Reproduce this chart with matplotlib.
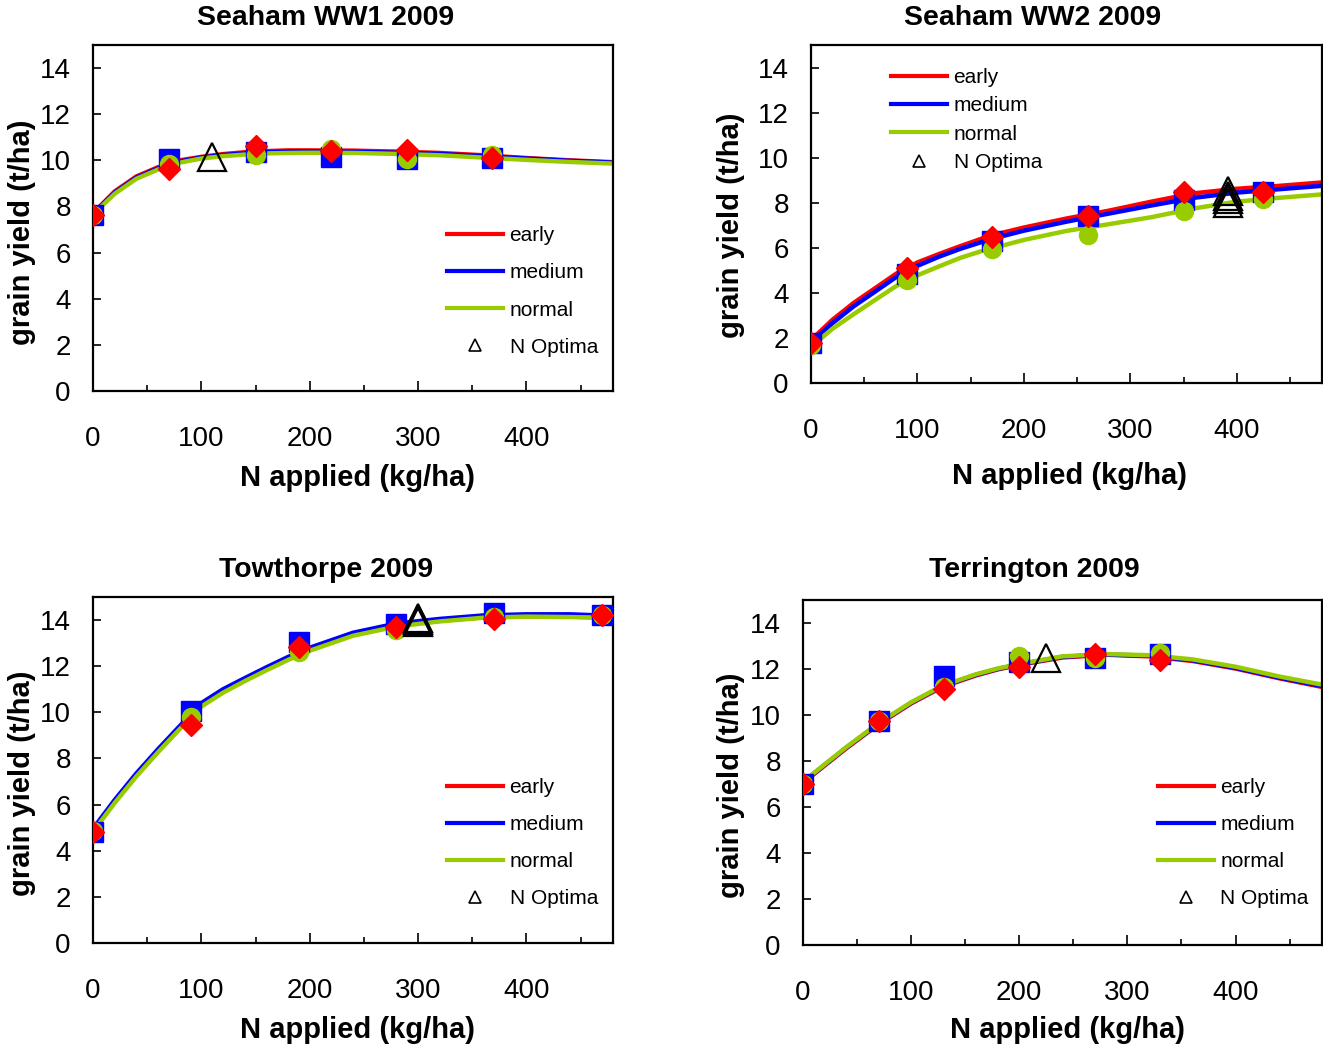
import matplotlib
matplotlib.use("Agg")
import matplotlib.pyplot as plt
from matplotlib.lines import Line2D
from matplotlib.ticker import MultipleLocator

plt.rcParams['font.family'] = ['Liberation Sans', 'DejaVu Sans']

# ---------------- data ----------------
titles = ["Seaham WW1 2009", "Seaham WW2 2009", "Towthorpe 2009", "Terrington 2009"]
series_names = ["early", "medium", "normal"]

# grid of N rates for fitted response curves
curve_n = [0, 20, 40, 60, 80, 100, 120, 140, 160, 180, 200, 240, 280, 320, 360, 400, 440, 480]

# --- Seaham WW1 ---
p1_n = [0, 70, 150, 220, 290, 368]
p1_early = [7.65, 9.63, 10.62, 10.42, 10.45, 10.1]
p1_medium = [7.65, 10.06, 10.38, 10.14, 10.05, 10.12]
p1_normal = [7.65, 9.82, 10.24, 10.5, 10.05, 10.22]
p1_curve_early = [7.7, 8.65, 9.3, 9.7, 10.0, 10.15, 10.27, 10.35, 10.4, 10.43, 10.43, 10.42, 10.38, 10.32, 10.22, 10.1, 10.0, 9.92]
p1_curve_medium = [7.7, 8.6, 9.25, 9.65, 9.95, 10.12, 10.23, 10.3, 10.35, 10.38, 10.38, 10.37, 10.33, 10.28, 10.18, 10.08, 9.98, 9.9]
p1_curve_normal = [7.65, 8.55, 9.2, 9.6, 9.9, 10.08, 10.18, 10.25, 10.3, 10.32, 10.33, 10.32, 10.28, 10.22, 10.12, 10.02, 9.93, 9.86]
p1_opt_n = [110]
p1_opt_y = [10.13]

# --- Seaham WW2 ---
p2_n = [0, 90, 170, 260, 350, 425]
p2_early = [1.76, 5.11, 6.5, 7.4, 8.46, 8.46]
p2_medium = [1.76, 4.84, 6.28, 7.4, 8.12, 8.46]
p2_normal = [1.7, 4.55, 5.96, 6.58, 7.63, 8.15]
p2_curve_early = [1.9, 2.8, 3.55, 4.2, 4.85, 5.35, 5.72, 6.07, 6.4, 6.67, 6.9, 7.3, 7.65, 8.05, 8.42, 8.62, 8.75, 8.9]
p2_curve_medium = [1.8, 2.65, 3.4, 4.05, 4.7, 5.2, 5.6, 5.95, 6.25, 6.52, 6.76, 7.16, 7.52, 7.88, 8.22, 8.45, 8.6, 8.75]
p2_curve_normal = [1.6, 2.4, 3.05, 3.68, 4.3, 4.78, 5.17, 5.55, 5.85, 6.1, 6.35, 6.75, 7.05, 7.36, 7.75, 8.05, 8.22, 8.37]
p2_opt_n = [392, 392, 392, 392]
p2_opt_y = [8.5, 8.3, 8.15, 8.0]

# --- Towthorpe ---
p3_n = [0, 90, 190, 280, 370, 470]
p3_early = [4.8, 9.45, 12.84, 13.7, 14.03, 14.2]
p3_medium = [4.8, 10.07, 13.05, 13.85, 14.29, 14.2]
p3_normal = [4.85, 9.81, 12.62, 13.56, 14.15, 14.2]
p3_curve_early = [4.87, 6.12, 7.27, 8.32, 9.32, 10.3, 10.9, 11.4, 11.87, 12.32, 12.72, 13.37, 13.77, 13.97, 14.12, 14.17, 14.15, 14.1]
p3_curve_medium = [4.95, 6.2, 7.35, 8.4, 9.4, 10.4, 11.0, 11.48, 11.95, 12.4, 12.8, 13.45, 13.85, 14.05, 14.2, 14.25, 14.25, 14.18]
p3_curve_normal = [4.82, 6.07, 7.22, 8.27, 9.27, 10.25, 10.85, 11.35, 11.82, 12.27, 12.67, 13.32, 13.72, 13.94, 14.1, 14.15, 14.13, 14.1]
p3_opt_n = [300, 300, 300]
p3_opt_y = [14.1, 14.0, 13.9]

# --- Terrington ---
p4_n = [0, 70, 130, 200, 270, 330]
p4_early = [7.0, 9.75, 11.13, 12.07, 12.65, 12.4]
p4_medium = [7.0, 9.75, 11.7, 12.29, 12.5, 12.65]
p4_normal = [7.0, 9.75, 11.2, 12.58, 12.5, 12.7]
p4_curve_early = [7.05, 7.8, 8.55, 9.25, 9.9, 10.5, 11.0, 11.4, 11.72, 11.98, 12.18, 12.5, 12.62, 12.55, 12.35, 12.02, 11.6, 11.22]
p4_curve_medium = [7.08, 7.83, 8.58, 9.28, 9.93, 10.53, 11.03, 11.43, 11.75, 12.0, 12.2, 12.53, 12.63, 12.58, 12.38, 12.05, 11.63, 11.26]
p4_curve_normal = [7.1, 7.85, 8.6, 9.3, 9.95, 10.55, 11.05, 11.45, 11.77, 12.02, 12.22, 12.55, 12.65, 12.6, 12.42, 12.1, 11.68, 11.32]
p4_opt_n = [225]
p4_opt_y = [12.5]

panels = [
    (p1_n, [p1_early, p1_medium, p1_normal], [p1_curve_early, p1_curve_medium, p1_curve_normal], p1_opt_n, p1_opt_y),
    (p2_n, [p2_early, p2_medium, p2_normal], [p2_curve_early, p2_curve_medium, p2_curve_normal], p2_opt_n, p2_opt_y),
    (p3_n, [p3_early, p3_medium, p3_normal], [p3_curve_early, p3_curve_medium, p3_curve_normal], p3_opt_n, p3_opt_y),
    (p4_n, [p4_early, p4_medium, p4_normal], [p4_curve_early, p4_curve_medium, p4_curve_normal], p4_opt_n, p4_opt_y),
]

# ---------------- style / layout ----------------
W, H = 1323, 1050
colors = ["#FF0000", "#0000FF", "#99CC00"]
markers = ["D", "s", "o"]
msizes = [11.5, 14, 13]

# axes boxes in pixels: left, right, top, bottom
boxes = [(93, 613, 45, 391), (811, 1322, 45, 383), (93, 613, 597, 943), (803, 1322, 600, 945)]
title_px = [(326, 18), (1033, 18), (326, 570), (1034, 570)]
xlabel_px = [(358, 478), (1069, 476), (358, 1030), (1068, 1030)]
ylabel_px = [(22, 232), (731, 225), (22, 783), (731, 785)]
legend_px = [(447, 291.5, 0.87), (891, 120, 0.45), (447, 843, 0.87), (1158, 843, 0.87)]

fig = plt.figure(figsize=(W / 100, H / 100), dpi=100)

for i, (nx, marks, curves, opt_n, opt_y) in enumerate(panels):
    l, r, t, b = boxes[i]
    ax = fig.add_axes([l / W, 1 - b / H, (r - l) / W, (b - t) / H])
    aw, ah = r - l, b - t

    # fitted curves
    for c in range(3):
        ax.plot(curve_n, curves[c], color=colors[c], lw=3.2, zorder=2, solid_joinstyle='round')
    # observed points (medium, normal, early draw order)
    for c in [1, 2, 0]:
        ax.plot(nx, marks[c], ls='none', marker=markers[c], ms=msizes[c],
                color=colors[c], mec=colors[c], zorder=3)
    # N optima
    ax.plot(opt_n, opt_y, ls='none', marker='^', ms=19.5, mfc='none', mec='black',
            mew=1.6, zorder=4)

    ax.set_xlim(0, 480)
    ax.set_ylim(0, 15)
    ax.xaxis.set_major_locator(MultipleLocator(100))
    ax.xaxis.set_minor_locator(MultipleLocator(50))
    ax.set_yticks(range(0, 15, 2))
    ax.tick_params(axis='x', which='major', direction='in', length=7, width=1.2,
                   labelsize=20, pad=25.5)
    ax.tick_params(axis='x', which='minor', direction='in', length=4, width=1.2)
    ax.tick_params(axis='y', which='major', direction='in', length=6, width=1.2,
                   labelsize=20, pad=16)
    for sp in ax.spines.values():
        sp.set_linewidth(1.6)
        sp.set_color('black')

    tx, ty = title_px[i]
    ax.set_title(titles[i], x=(tx - l) / aw, y=(b - ty) / ah, pad=0, va='center',
                 fontsize=20.4, fontweight='bold')
    ax.set_xlabel("N applied (kg/ha)", fontsize=21, fontweight='bold')
    xx, xy = xlabel_px[i]
    ax.xaxis.set_label_coords((xx - l) / aw, (b - xy) / ah)
    ax.xaxis.label.set_va('center')
    ax.set_ylabel("grain yield (t/ha)", fontsize=21, fontweight='bold')
    yx, yy = ylabel_px[i]
    ax.yaxis.set_label_coords((yx - l) / aw, (b - yy) / ah)
    ax.yaxis.label.set_va('center')

    handles = [Line2D([], [], color=colors[c], lw=3) for c in range(3)]
    handles.append(Line2D([], [], ls='none', marker='^', ms=8.5, mfc='none', mec='black', mew=1.2))
    lx, ly, lsp = legend_px[i]
    ax.legend(handles, series_names + ["N Optima"], loc='center left',
              bbox_to_anchor=((lx - l) / aw, (b - ly) / ah), frameon=False,
              fontsize=15, handlelength=2.7, handletextpad=0.3, labelspacing=lsp,
              borderpad=0, borderaxespad=0)

fig.savefig("out.png", dpi=100)
